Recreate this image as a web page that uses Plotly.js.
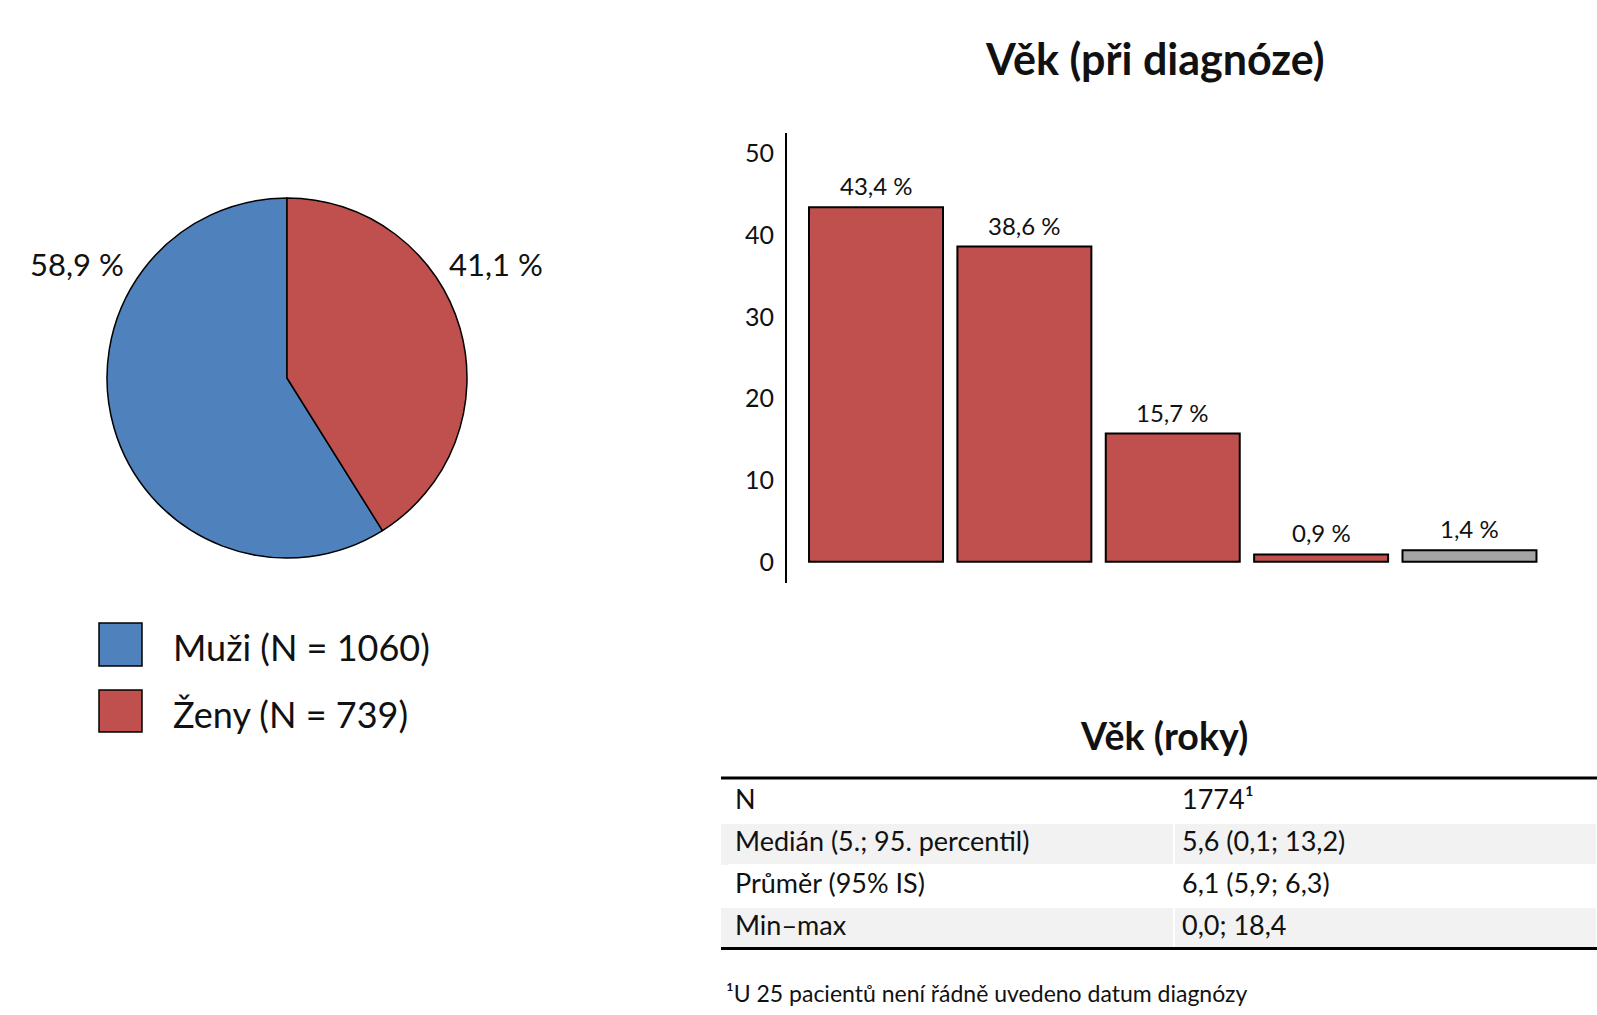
<!DOCTYPE html>
<html>
<head>
<meta charset="utf-8">
<script src="https://cdn.plot.ly/plotly-3.0.1.min.js"></script>
<style>html,body{margin:0;padding:0;background:#fff;}#chart{width:1597px;height:1015px;}</style>
</head>
<body>
<div id="chart"></div>
<script>
// ---- data ----
var sexLabels = ['Muži', 'Ženy'];
var sexCounts = [1060, 739];
var sexPct = [58.9, 41.1];
var sexColors = ['#4F81BD', '#C0504D'];

var ageCategories = ['< 5 let', '5–9 let', '10–14 let', '15–18 let', 'Neuvedeno'];
var agePct = [43.4, 38.6, 15.7, 0.9, 1.4];
var ageColors = ['#C0504D', '#C0504D', '#C0504D', '#C0504D', '#A5A5A5'];
var yTicks = [0, 10, 20, 30, 40, 50];

var tableLabels = ['N', 'Medián (5.; 95. percentil)', 'Průměr (95% IS)', 'Min–max'];
var tableValues = ['1774¹', '5,6 (0,1; 13,2)', '6,1 (5,9; 6,3)', '0,0; 18,4'];
var rowFills = ['#FFFFFF', '#F2F2F2', '#FFFFFF', '#F2F2F2'];
var footnote = '¹U 25 pacientů není řádně uvedeno datum diagnózy';

var titleBar = 'Věk (při diagnóze)';
var titleTable = 'Věk (roky)';

// ---- helpers ----
var W = 1597, H = 1015;
function px(x) { return x / W; }
function py(y) { return 1 - y / H; }
function fmt(v) { return v.toFixed(1).replace('.', ','); }
var FONT = 'Lato, "Open Sans", sans-serif';
var TXT = '#111';

// ---- traces ----
var pie = {
  type: 'pie',
  labels: sexLabels,
  values: sexPct,
  marker: { colors: sexColors, line: { color: '#000', width: 1.5 } },
  sort: false,
  direction: 'clockwise',
  rotation: sexPct[1] / 100 * 360,
  textinfo: 'none',
  hoverinfo: 'label+percent',
  domain: { x: [px(107), px(467)], y: [py(558), py(198)] },
  showlegend: false
};

var bar = {
  type: 'bar',
  x: ageCategories,
  y: agePct,
  marker: { color: ageColors, line: { color: '#000', width: 2 } },
  xaxis: 'x', yaxis: 'y',
  showlegend: false,
  hoverinfo: 'x+y'
};

var TABLE_X0 = 727, TABLE_TOP = 781, ROW_H = 42;
var cellFont = { family: FONT, size: 27, color: TXT };
var table = {
  type: 'table',
  domain: { x: [px(TABLE_X0), 1], y: [py(TABLE_TOP + 4 * ROW_H + 1), py(TABLE_TOP)] },
  columnwidth: [447, 423],
  header: {
    values: [[tableLabels[0]], [tableValues[0]]],
    align: 'left',
    height: ROW_H,
    font: cellFont,
    fill: { color: rowFills[0] },
    line: { color: '#FFFFFF', width: 2 }
  },
  cells: {
    values: [tableLabels.slice(1), tableValues.slice(1)],
    align: 'left',
    height: ROW_H,
    font: cellFont,
    fill: { color: [rowFills.slice(1), rowFills.slice(1)] },
    line: { color: '#FFFFFF', width: 2 }
  }
};

// ---- annotations ----
var annotations = [];
ageCategories.forEach(function (c, i) {
  annotations.push({
    x: c, y: agePct[i], xref: 'x', yref: 'y',
    text: fmt(agePct[i]) + ' %', showarrow: false,
    yanchor: 'bottom', yshift: 5,
    font: { family: FONT, size: 24, color: TXT }
  });
});
annotations.push({ x: px(77), y: py(264), xref: 'paper', yref: 'paper', text: fmt(sexPct[0]) + ' %', showarrow: false,
  xanchor: 'center', yanchor: 'middle', font: { family: FONT, size: 31, color: TXT } });
annotations.push({ x: px(496), y: py(264), xref: 'paper', yref: 'paper', text: fmt(sexPct[1]) + ' %', showarrow: false,
  xanchor: 'center', yanchor: 'middle', font: { family: FONT, size: 31, color: TXT } });
var legendY = [644.5, 711.5];
sexLabels.forEach(function (l, i) {
  annotations.push({ x: px(171), y: py(legendY[i] + 2), xref: 'paper', yref: 'paper',
    text: l + ' (N = ' + sexCounts[i] + ')', showarrow: false, xanchor: 'left', yanchor: 'middle',
    font: { family: FONT, size: 36, color: TXT } });
});
annotations.push({ x: px(1154), y: py(59), xref: 'paper', yref: 'paper', text: '<b>' + titleBar + '</b>', showarrow: false,
  xanchor: 'center', yanchor: 'middle', font: { family: FONT, size: 43, color: TXT } });
annotations.push({ x: px(1164), y: py(735), xref: 'paper', yref: 'paper', text: '<b>' + titleTable + '</b>', showarrow: false,
  xanchor: 'center', yanchor: 'middle', font: { family: FONT, size: 37.5, color: TXT } });
annotations.push({ x: px(724), y: py(993), xref: 'paper', yref: 'paper', text: footnote, showarrow: false,
  xanchor: 'left', yanchor: 'middle', font: { family: FONT, size: 23, color: TXT } });

// ---- shapes ----
var shapes = [];
var legendBoxes = [[623, 666], [690, 732]];
legendBoxes.forEach(function (b, i) {
  shapes.push({ type: 'rect', xref: 'paper', yref: 'paper', x0: px(99), x1: px(142), y0: py(b[1]), y1: py(b[0]),
    fillcolor: sexColors[i], line: { color: '#000', width: 1.5 } });
});
// extend shaded row backgrounds to the left edge of the rules
rowFills.forEach(function (f, i) {
  if (f !== '#FFFFFF') {
    var top = TABLE_TOP + i * ROW_H + 1, bot = TABLE_TOP + (i + 1) * ROW_H;
    shapes.push({ type: 'rect', xref: 'paper', yref: 'paper', x0: px(721), x1: px(TABLE_X0 + 1),
      y0: py(bot), y1: py(top), fillcolor: f, line: { width: 0 } });
  }
});
shapes.push({ type: 'line', xref: 'paper', yref: 'paper', x0: px(721), x1: 1, y0: py(778), y1: py(778), line: { color: '#000', width: 3 } });
shapes.push({ type: 'line', xref: 'paper', yref: 'paper', x0: px(721), x1: 1, y0: py(948.5), y1: py(948.5), line: { color: '#000', width: 3 } });

var layout = {
  width: W, height: H,
  margin: { l: 0, r: 0, t: 0, b: 0, pad: 0 },
  paper_bgcolor: '#fff', plot_bgcolor: 'rgba(0,0,0,0)',
  showlegend: false,
  bargap: 0.097,
  font: { family: FONT, color: TXT },
  xaxis: {
    domain: [px(787), px(1558.5)],
    range: [-0.6, 4.6],
    showticklabels: false, ticks: '', showline: false, showgrid: false, zeroline: false,
    fixedrange: true
  },
  yaxis: {
    domain: [py(583), py(133)],
    range: [-2.6, 52.5],
    tickvals: yTicks,
    ticktext: yTicks.map(String),
    ticks: '', showgrid: false, zeroline: false,
    showline: true, linecolor: '#000', linewidth: 2,
    ticklabelstandoff: 6,
    tickfont: { family: FONT, size: 25, color: TXT },
    fixedrange: true
  },
  annotations: annotations,
  shapes: shapes
};

Plotly.newPlot('chart', [pie, bar, table], layout, { displayModeBar: false, staticPlot: true });
</script>
</body>
</html>
